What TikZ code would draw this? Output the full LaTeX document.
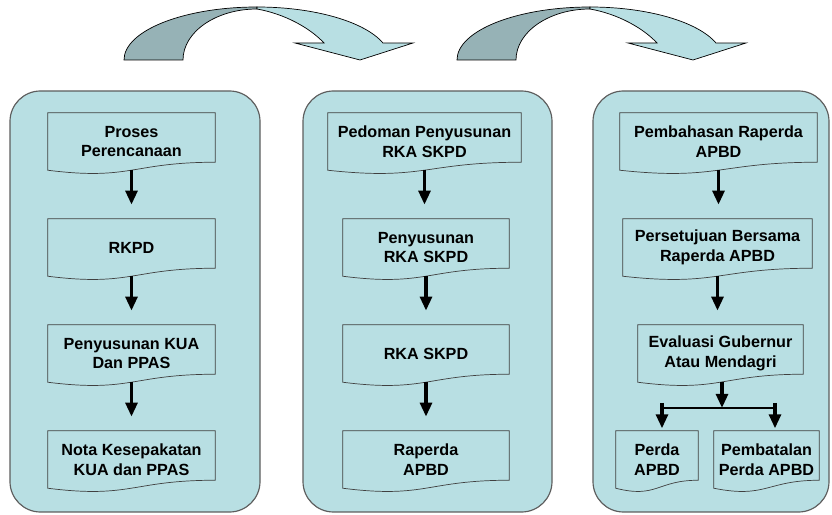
\documentclass[tikz,border=0pt]{standalone}
\usepackage{fontspec}
\setmainfont{Liberation Sans}
\usetikzlibrary{arrows.meta, calc}

\definecolor{panelblue}{RGB}{184,223,227}
\definecolor{backblue}{RGB}{150,178,182}
\definecolor{edgegray}{RGB}{64,64,64}

\tikzset{
  panel/.style={draw=edgegray!85, line width=1pt, fill=panelblue, rounded corners=26pt},
  docbox/.style={minimum height=1.71cm, inner sep=0pt, align=center,
    font=\bfseries\fontsize{13.8}{17}\selectfont},
  docline/.style={draw=edgegray, line width=0.6pt},
  flow/.style={line width=3pt, -{Triangle[length=12pt, width=10pt]}, shorten >=12pt},
  bendarrow/.style={draw=black, line width=0.6pt}
}

\begin{document}
\begin{tikzpicture}[x=0.03cm, y=-0.03cm]
\useasboundingbox (0,0) rectangle (832,515);

% curved arrows from panel to panel
\foreach \dx in {0,333}{
  \begin{scope}[shift={(\dx,0)}]
    \filldraw[bendarrow, fill=backblue] (124,60) arc[start angle=180, end angle=270, x radius=133, y radius=53]
      -- (257,9) arc[start angle=270, end angle=180, x radius=74, y radius=51] -- cycle;
    \filldraw[bendarrow, fill=panelblue] (257,7) arc[start angle=270, end angle=341.3, x radius=133, y radius=53]
      -- (413,43) -- (360,60) -- (295,43) -- (324,43) .. controls (310,28) and (285,14) .. (257,9) -- cycle;
  \end{scope}
}

% panels
\draw[panel] (10,91) rectangle (260,512);
\draw[panel] (303,91) rectangle (552,512);
\draw[panel] (593,91) rectangle (829,512);

% panel 1
\node[docbox, minimum width=5.01cm] (kua1) at (131.5,141.5) {Proses\\Perencanaan};
\node[docbox, minimum width=5.01cm] (kua2) at (131.5,247.5) {RKPD};
\node[docbox, minimum width=5.01cm] (kua3) at (131.5,353.5) {Penyusunan KUA\\Dan PPAS};
\node[docbox, minimum width=5.01cm] (kua4) at (131.5,459.5) {Nota Kesepakatan\\KUA dan PPAS};

% panel 2
\node[docbox, minimum width=5.79cm] (rka1) at (424.5,141.5) {Pedoman Penyusunan\\RKA SKPD};
\node[docbox, minimum width=4.98cm] (rka2) at (426,247.5) {Penyusunan\\RKA SKPD};
\node[docbox, minimum width=4.98cm] (rka3) at (426,353.5) {RKA SKPD};
\node[docbox, minimum width=4.98cm] (rka4) at (426,459.5) {Raperda\\APBD};

% panel 3
\node[docbox, minimum width=5.91cm] (apbd1) at (718.5,141.5) {Pembahasan Raperda\\APBD};
\node[docbox, minimum width=5.67cm] (apbd2) at (717.5,247.5) {Persetujuan Bersama\\Raperda APBD};
\node[docbox, minimum width=4.95cm] (apbd3) at (720.5,353.5) {Evaluasi Gubernur\\Atau Mendagri};
\node[docbox, minimum width=2.46cm] (perda) at (657,459.5) {Perda\\APBD};
\node[docbox, minimum width=3.15cm] (batal) at (766.5,459.5) {Pembatalan\\Perda APBD};

% document outlines with wavy bottom
\foreach \b in {kua1,kua2,kua3,kua4,rka1,rka2,rka3,rka4,apbd1,apbd2,apbd3,perda,batal}{
  \draw[docline] (\b.north west) -- (\b.south west)
    .. controls ($(\b.south)+(0,10.5)$) and ($(\b.south)+(0,-8)$) .. ($(\b.south east)+(0,-8)$)
    -- (\b.north east) -- cycle;
}

% flow arrows
\draw[flow] (kua1.south) -- (kua2.north);
\draw[flow] (kua2.south) -- (kua3.north);
\draw[flow] (kua3.south) -- (kua4.north);
\draw[flow] (rka1.south) -- (rka1.south |- rka2.north);
\draw[flow] (rka2.south) -- (rka3.north);
\draw[flow] (rka3.south) -- (rka4.north);
\draw[flow] (apbd1.south) -- (apbd1.south |- apbd2.north);
\draw[flow] (apbd2.south) -- (apbd2.south |- apbd3.north);

% split to the two results
\coordinate (split) at (722,408);
\coordinate (splitL) at (662,408);
\coordinate (splitR) at (775,408);
\draw[line width=1pt] (splitL) -- (splitR);
\draw[flow, shorten >=0pt] (apbd3.south -| split) -- (split);
\draw[flow, shorten >=2pt] ($(splitL)+(0,-5)$) -- (splitL |- perda.north);
\draw[flow, shorten >=2pt] ($(splitR)+(0,-5)$) -- (splitR |- batal.north);
\end{tikzpicture}
\end{document}
